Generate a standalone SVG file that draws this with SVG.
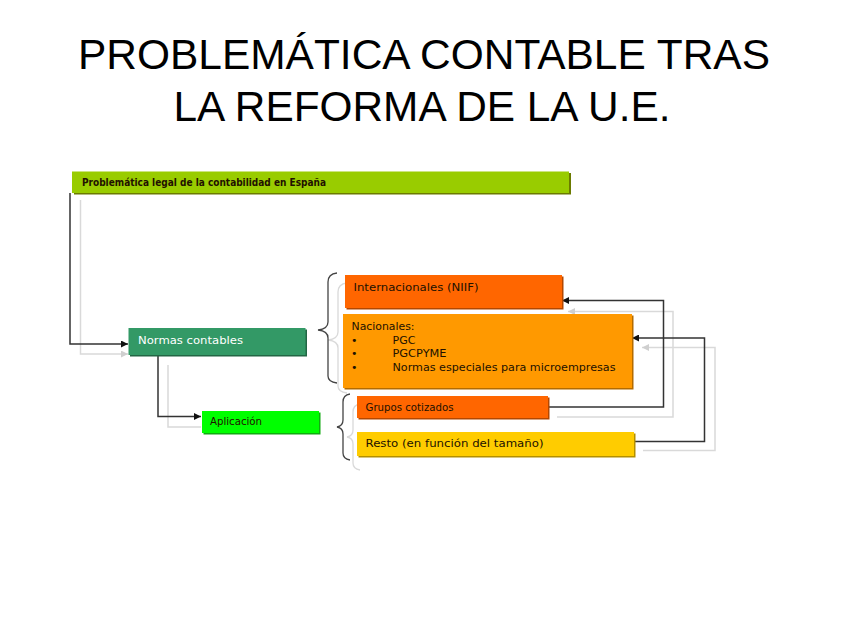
<svg xmlns="http://www.w3.org/2000/svg" width="848" height="636" viewBox="0 0 848 636">
<defs>
<style>
.title{font-family:"Liberation Sans",Arial,sans-serif;font-size:42px;fill:#000;text-anchor:middle}
.t{font-family:"DejaVu Sans","Liberation Sans",sans-serif;font-size:11px;fill:#221100}
.w{fill:#ffffff}
.conn{fill:none;stroke:#333;stroke-width:1.5}
.shd{fill:none;stroke:#d9d9d9;stroke-width:1.5}
.brace{fill:none;stroke:#444;stroke-width:1.3}
.brs{fill:none;stroke:#d9d9d9;stroke-width:1.3}
</style>
<marker id="ab" viewBox="0 0 10 10" refX="10" refY="5" markerWidth="7" markerHeight="7" markerUnits="userSpaceOnUse" orient="auto"><path d="M0,0 L10,5 L0,10 z" fill="#111"/></marker>
<marker id="ag" viewBox="0 0 10 10" refX="10" refY="5" markerWidth="7" markerHeight="7" markerUnits="userSpaceOnUse" orient="auto"><path d="M0,0 L10,5 L0,10 z" fill="#cfcfcf"/></marker>
</defs>
<rect width="848" height="636" fill="#fff"/>
<text class="title" x="424" y="69" textLength="692" lengthAdjust="spacingAndGlyphs">PROBLEMÁTICA CONTABLE TRAS</text>
<text class="title" x="422" y="121" textLength="497" lengthAdjust="spacingAndGlyphs">LA REFORMA DE LA U.E.</text>

<g id="connectors">
<path class="shd" d="M80.5,200 V354 H128" marker-end="url(#ag)"/>
<path class="shd" d="M168,365 V427 H201"/>
<path class="shd" d="M557,417 H673 V311.5 H568" marker-end="url(#ag)"/>
<path class="shd" d="M643,450.5 H715 V347.5 H642" marker-end="url(#ag)"/>
<path class="brs" d="M347,283 Q338,284 338,292 V332 Q338,339 328,340 Q338,341 338,348 V386 Q338,392 347,393"/>
<path class="brs" d="M360,404 Q353,405 353,412 V430 Q353,436 347,437 Q353,438 353,444 V463 Q353,469 360,470"/>
<path class="conn" d="M70,193 V344 H128" marker-end="url(#ab)"/>
<path class="conn" d="M158,355 V416.5 H201" marker-end="url(#ab)"/>
<path class="conn" d="M548,407 H663.5 V300.5 H562" marker-end="url(#ab)"/>
<path class="conn" d="M634,441.5 H704.5 V338 H632" marker-end="url(#ab)"/>
<path class="brace" d="M337,273 Q328,274 328,282 V322 Q328,329 318,330 Q328,331 328,338 V376 Q328,382 337,383"/>
<path class="brace" d="M350,394 Q343,395 343,402 V420 Q343,426 337,427 Q343,428 343,434 V453 Q343,459 350,460"/>
</g>

<g id="problematica">
<rect x="74" y="173" width="497" height="21.5" fill="#6b7a00"/>
<rect x="72" y="171.5" width="497" height="21.5" fill="#99cc00"/>
<text class="t" x="82" y="186" font-size="10.5" font-weight="bold" textLength="244" lengthAdjust="spacingAndGlyphs">Problemática legal de la contabilidad en España</text>
</g>

<g id="normas">
<rect x="130" y="329.5" width="177" height="27" fill="#226644"/>
<rect x="128.5" y="328" width="177" height="27" fill="#339966"/>
<text class="t w" x="138" y="343.5" font-size="11.5" textLength="105" lengthAdjust="spacingAndGlyphs">Normas contables</text>
</g>

<g id="aplicacion">
<rect x="203.5" y="412.5" width="117" height="22" fill="#11aa11"/>
<rect x="202" y="411" width="117" height="22" fill="#00ff00"/>
<text class="t" x="210" y="424.5" textLength="52" lengthAdjust="spacingAndGlyphs">Aplicación</text>
</g>

<g id="internacionales">
<rect x="346.5" y="276.5" width="217" height="33" fill="#b34700"/>
<rect x="345" y="275" width="217" height="33" fill="#ff6600"/>
<text class="t" x="353.5" y="290.5" textLength="125" lengthAdjust="spacingAndGlyphs">Internacionales (NIIF)</text>
</g>

<g id="nacionales">
<rect x="344.5" y="315.5" width="289" height="74" fill="#b36b00"/>
<rect x="343" y="314" width="289" height="74" fill="#ff9900"/>
<text class="t" x="351.5" y="330" textLength="63" lengthAdjust="spacingAndGlyphs">Nacionales:</text>
<text class="t" x="351" y="343.5">•</text>
<text class="t" x="351" y="357">•</text>
<text class="t" x="351" y="370.5">•</text>
<text class="t" x="392.5" y="343.5">PGC</text>
<text class="t" x="392.5" y="357" textLength="54" lengthAdjust="spacingAndGlyphs">PGCPYME</text>
<text class="t" x="392.5" y="370.5" textLength="223" lengthAdjust="spacingAndGlyphs">Normas especiales para microempresas</text>
</g>

<g id="grupos">
<rect x="358.5" y="397.5" width="191" height="22" fill="#b34700"/>
<rect x="357" y="396" width="191" height="22" fill="#ff6600"/>
<text class="t" x="365.5" y="410.5" font-size="10.5" textLength="88" lengthAdjust="spacingAndGlyphs">Grupos cotizados</text>
</g>

<g id="resto">
<rect x="358.5" y="433.5" width="277" height="24" fill="#b38f00"/>
<rect x="357" y="432" width="277" height="24" fill="#ffcc00"/>
<text class="t" x="365.5" y="446.5" textLength="178" lengthAdjust="spacingAndGlyphs">Resto (en función del tamaño)</text>
</g>
</svg>
